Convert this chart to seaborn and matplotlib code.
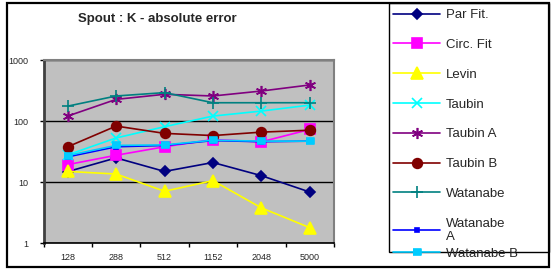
import numpy as np
import pandas as pd
import matplotlib
matplotlib.use("Agg")
import matplotlib.pyplot as plt
from matplotlib.patches import Rectangle
import seaborn as sns

# ── Data ──────────────────────────────────────────────────────────────
sizes = ["128", "288", "512", "1152", "2048", "5000"]

par_fit    = [14.9, 25, 15, 21, 12.8, 6.9]
circ_fit   = [19.4, 27.6, 38, 50, 45.8, 73]
levin      = [15, 13.6, 7.1, 10.6, 3.8, 1.8]
taubin     = [28, 53, 81, 121, 146, 183]
taubin_a   = [121, 227, 275, 258, 311, 391]
taubin_b   = [38, 83, 63, 58, 66, 71]
watanabe   = [176, 258, 293, 200, 200, 200]
watanabe_a = [26, 38, 40, 48, 46, 47]
watanabe_b = [27.3, 40, 40.8, 48.7, 47, 47]

series_names = ["Par Fit.", "Circ. Fit", "Levin", "Taubin", "Taubin A",
                "Taubin B", "Watanabe", "Watanabe A", "Watanabe B"]
series_values = [par_fit, circ_fit, levin, taubin, taubin_a,
                 taubin_b, watanabe, watanabe_a, watanabe_b]

rows = []
for name, vals in zip(series_names, series_values):
    for i, v in enumerate(vals):
        rows.append({"series": name, "pos": i, "value": v})
df = pd.DataFrame(rows)

# ── Styles ────────────────────────────────────────────────────────────
wide_rect = [(-1.6, -1), (1.6, -1), (1.6, 1), (-1.6, 1)]
styles = {
    "Par Fit.":   dict(color="#000080", marker="D", ms=5.5),
    "Circ. Fit":  dict(color="#ff00ff", marker="s", ms=6.5),
    "Levin":      dict(color="#ffff00", marker="^", ms=8),
    "Taubin":     dict(color="#00ffff", marker="x", ms=6.5),
    "Taubin A":   dict(color="#800080", marker=(6, 2, 0), ms=8),
    "Taubin B":   dict(color="#800000", marker="o", ms=7),
    "Watanabe":   dict(color="#008080", marker="+", ms=8),
    "Watanabe A": dict(color="#0000ff", marker="s", ms=3.5),
    "Watanabe B": dict(color="#00ccff", marker=wide_rect, ms=6),
}

sns.set_style("white")
plt.rcParams["font.family"] = ["Liberation Sans", "DejaVu Sans"]

fig = plt.figure(figsize=(5.51, 2.73), dpi=100)
ax = fig.add_axes([0.079, 0.109, 0.527, 0.671])
ax.set_facecolor("#c0c0c0")

for name in series_names:
    st = styles[name]
    sns.lineplot(data=df[df["series"] == name], x="pos", y="value", ax=ax,
                 color=st["color"], marker=st["marker"], markersize=st["ms"],
                 mec=st["color"], mfc=st["color"], mew=1.2, lw=1.2,
                 errorbar=None, label=name)

# ── Axes ──────────────────────────────────────────────────────────────
ax.set_yscale("log")
ax.set_ylim(1, 1000)
ax.set_yticks([1, 10, 100, 1000])
ax.set_yticklabels(["1", "10", "100", "1000"])
ax.yaxis.set_minor_locator(matplotlib.ticker.NullLocator())
ax.yaxis.grid(True, color="black", lw=1)
ax.set_axisbelow(True)

ax.set_xlim(-0.5, 5.5)
ax.set_xticks(np.arange(-0.5, 6, 1))
ax.set_xticklabels([])
ax.set_xticks(np.arange(6), minor=True)
ax.set_xticklabels(sizes, minor=True)
ax.tick_params(axis="x", which="major", direction="out", length=3, width=1,
               color="black", bottom=True)
ax.tick_params(axis="x", which="minor", length=0, pad=7, labelsize=6.5)
ax.tick_params(axis="y", direction="out", length=3, width=1, color="black",
               left=True, pad=8, labelsize=6.5)
ax.set_xlabel("")
ax.set_ylabel("")

for side in ["top", "right"]:
    ax.spines[side].set_color("#808080")
    ax.spines[side].set_linewidth(1.5)
ax.spines["left"].set_color("#404040")
ax.spines["left"].set_linewidth(2)
ax.spines["bottom"].set_color("black")
ax.spines["bottom"].set_linewidth(1.2)

fig.text(0.285, 0.932, "Spout : K - absolute error", ha="center", va="center",
         fontsize=9.5, fontweight="bold")

# ── Legend ────────────────────────────────────────────────────────────
handles, labels = ax.get_legend_handles_labels()
ax.get_legend().remove()
labels = [("Watanabe\nA" if l == "Watanabe A" else l) for l in labels]

leg1 = fig.legend(handles[:8], labels[:8], loc="upper left",
                  bbox_to_anchor=(0.713, 0.967), frameon=False, fontsize=9.5,
                  handlelength=3.6, handletextpad=0.4, labelspacing=1.33,
                  borderpad=0, borderaxespad=0)
leg2 = fig.legend(handles[8:], labels[8:], loc="upper left",
                  bbox_to_anchor=(0.713, 0.094), frameon=False, fontsize=9.5,
                  handlelength=3.6, handletextpad=0.4,
                  borderpad=0, borderaxespad=0)

fig.patches.append(Rectangle((0.706, 0.077), 0.290, 0.912, transform=fig.transFigure,
                             fill=False, edgecolor="black", lw=1))
fig.patches.append(Rectangle((0.0127, 0.022), 0.984, 0.967, transform=fig.transFigure,
                             fill=False, edgecolor="black", lw=1.6))

fig.savefig("out.png", dpi=100)
